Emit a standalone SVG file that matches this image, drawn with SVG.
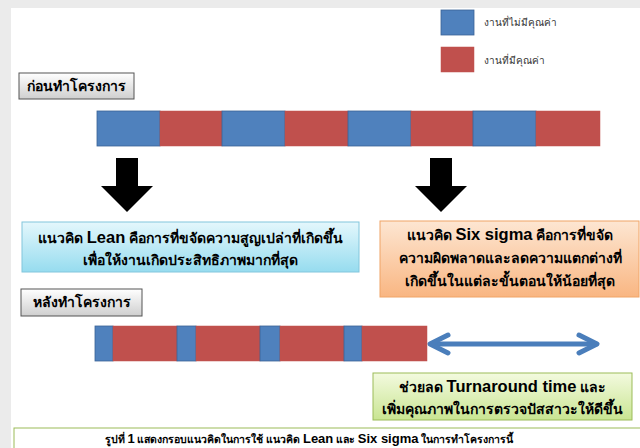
<svg xmlns="http://www.w3.org/2000/svg" width="640" height="448" viewBox="0 0 640 448">
<defs>
<linearGradient id="gGray" x1="0" y1="0" x2="0" y2="1"><stop offset="0" stop-color="#ffffff"/><stop offset="1" stop-color="#cfcfcf"/></linearGradient>
<linearGradient id="gCyan" x1="0" y1="0" x2="0" y2="1"><stop offset="0" stop-color="#e4f7fc"/><stop offset="1" stop-color="#96dcef"/></linearGradient>
<linearGradient id="gOrange" x1="0" y1="0" x2="0" y2="1"><stop offset="0" stop-color="#fde6d2"/><stop offset="1" stop-color="#f9b682"/></linearGradient>
<linearGradient id="gGreen" x1="0" y1="0" x2="0" y2="1"><stop offset="0" stop-color="#f3fadf"/><stop offset="1" stop-color="#c9e592"/></linearGradient>
</defs>
<style>
.bl{fill:#4f81bd;stroke:#3a6396;stroke-width:0.8}
.rd{fill:#c0504d;stroke:#c0504d;stroke-width:0.5}
.lbl{fill:url(#gGray);stroke:#555;stroke-width:1}
.t{font-family:"Noto Sans","Liberation Sans",sans-serif;fill:#000}
.leg{font-size:10px;fill:#333}
.head{font-size:14px;font-weight:bold}
.box{font-size:14px;font-weight:bold}
.lat{font-family:"Liberation Sans",sans-serif;font-size:16.5px;font-weight:bold}
.dbl{fill:none;stroke:#4a7ebb;stroke-width:5;stroke-linecap:round;stroke-linejoin:round}
</style>
<rect x="0" y="0" width="640" height="448" fill="#ebebeb"/>
<rect x="11" y="8" width="629" height="440" fill="#ffffff"/>

<g id="legend">
<rect x="441" y="10" width="33" height="25" class="bl"/>
<text x="484" y="26" class="t leg">งานที่ไม่มีคุณค่า</text>
<rect x="441" y="47" width="33" height="25" class="rd"/>
<text x="484" y="64" class="t leg">งานที่มีคุณค่า</text>
</g>

<g id="label-before">
<rect x="19" y="73" width="115" height="26" class="lbl"/>
<text x="76.5" y="91" text-anchor="middle" class="t head">ก่อนทำโครงการ</text>
</g>

<g id="bar-before">
<rect x="97" y="111" width="63" height="35" class="bl"/>
<rect x="160" y="111" width="62" height="35" class="rd"/>
<rect x="222" y="111" width="63" height="35" class="bl"/>
<rect x="285" y="111" width="63" height="35" class="rd"/>
<rect x="348" y="111" width="63" height="35" class="bl"/>
<rect x="411" y="111" width="62" height="35" class="rd"/>
<rect x="473" y="111" width="63" height="35" class="bl"/>
<rect x="536" y="111" width="64" height="35" class="rd"/>
</g>

<g id="connectors">
<polygon points="116,158 138,158 138,186 153,186 127,212 101,186 116,186" fill="#000"/>
<polygon points="430,158 452,158 452,186 467,186 441,212 415,186 430,186" fill="#000"/>
<line x1="432" y1="344" x2="596" y2="344" class="dbl"/>
<path d="M448,335 L430,344 L448,353" class="dbl"/>
<path d="M579,335 L597,344 L579,353" class="dbl"/>
</g>

<g id="lean">
<rect x="22" y="222" width="337" height="50" fill="url(#gCyan)" stroke="#82c6dc" stroke-width="1"/>
<text x="190.5" y="243" text-anchor="middle" class="t box">แนวคิด <tspan class="lat">Lean</tspan> คือการที่ขจัดความสูญเปล่าที่เกิดขึ้น</text>
<text x="190.5" y="265" text-anchor="middle" class="t box">เพื่อให้งานเกิดประสิทธิภาพมากที่สุด</text>
</g>

<g id="sixsigma">
<rect x="380" y="221" width="259" height="76" fill="url(#gOrange)" stroke="#f0a466" stroke-width="1"/>
<text x="510" y="240" text-anchor="middle" class="t box">แนวคิด <tspan class="lat">Six sigma</tspan> คือการที่ขจัด</text>
<text x="510" y="263" text-anchor="middle" class="t box">ความผิดพลาดและลดความแตกต่างที่</text>
<text x="510" y="286" text-anchor="middle" class="t box">เกิดขึ้นในแต่ละขั้นตอนให้น้อยที่สุด</text>
</g>

<g id="label-after">
<rect x="21" y="289" width="121" height="27" class="lbl"/>
<text x="81.5" y="307" text-anchor="middle" class="t head">หลังทำโครงการ</text>
</g>

<g id="bar-after">
<rect x="95" y="326" width="18" height="35" class="bl"/>
<rect x="113" y="326" width="64" height="35" class="rd"/>
<rect x="177" y="326" width="19" height="35" class="bl"/>
<rect x="196" y="326" width="64" height="35" class="rd"/>
<rect x="260" y="326" width="20" height="35" class="bl"/>
<rect x="280" y="326" width="64" height="35" class="rd"/>
<rect x="344" y="326" width="18" height="35" class="bl"/>
<rect x="362" y="326" width="65" height="35" class="rd"/>
</g>

<g id="turnaround">
<rect x="373" y="373" width="259" height="47" fill="url(#gGreen)" stroke="#9bbb59" stroke-width="1"/>
<text x="502.5" y="392" text-anchor="middle" class="t box">ช่วยลด <tspan class="lat">Turnaround time</tspan> และ</text>
<text x="502.5" y="414" text-anchor="middle" class="t box">เพิ่มคุณภาพในการตรวจปัสสาวะให้ดีขึ้น</text>
</g>

<g id="caption">
<rect x="14" y="428" width="630" height="30" fill="#ffffff" stroke="#9bbb59" stroke-width="1"/>
<text x="309" y="443" text-anchor="middle" class="t" font-size="10.5" font-weight="bold">รูปที่ <tspan font-family="Liberation Sans,sans-serif" font-size="13">1</tspan> แสดงกรอบแนวคิดในการใช้ แนวคิด <tspan font-family="Liberation Sans,sans-serif" font-size="13">Lean</tspan> และ <tspan font-family="Liberation Sans,sans-serif" font-size="13">Six sigma</tspan> ในการทำโครงการนี้</text>
</g>
</svg>
